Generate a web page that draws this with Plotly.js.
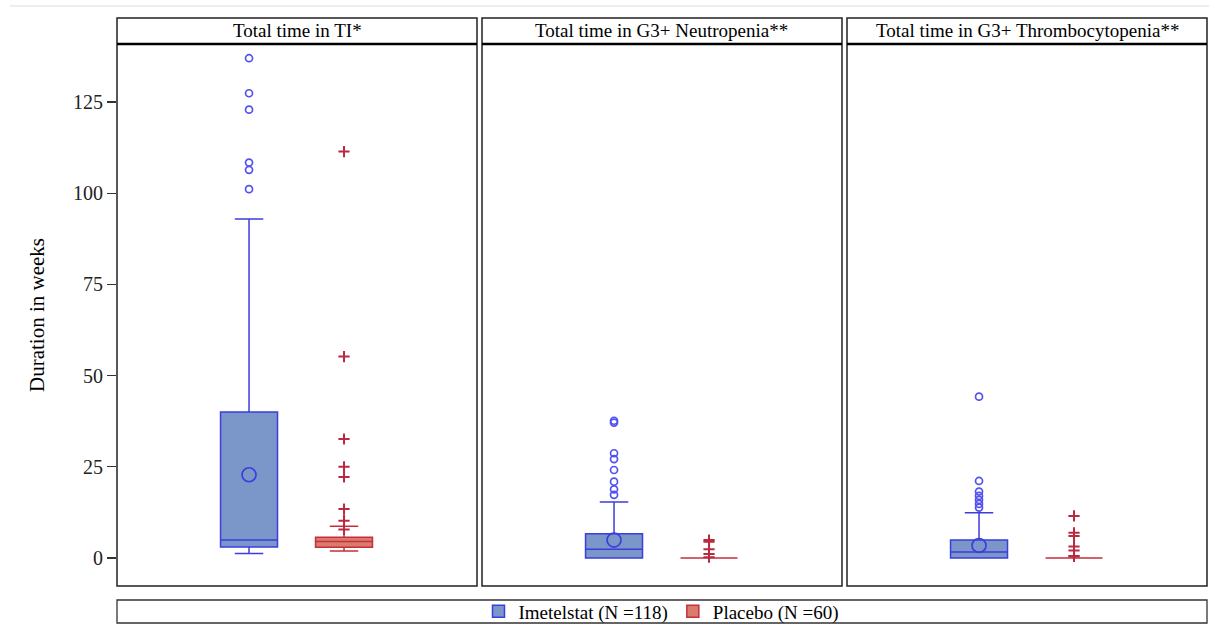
<!DOCTYPE html>
<html><head><meta charset="utf-8">
<script src="https://cdn.plot.ly/plotly-3.0.1.min.js"></script>
<style>html,body{margin:0;padding:0;background:#fff;overflow:hidden}#chart{width:1209px;height:625px}</style>
</head><body><div id="chart"></div>
<script>
// ---- data ----
const groups = ['Imetelstat (N =118)', 'Placebo (N =60)'];
const panels = ['Total time in TI*', 'Total time in G3+ Neutropenia**', 'Total time in G3+ Thrombocytopenia**'];
const yTicks = [0, 25, 50, 75, 100, 125];

const imeQ1 = [3.0, 0, 0];
const imeMedian = [4.9, 2.4, 1.6];
const imeQ3 = [40, 6.6, 4.9];
const imeLow = [1.2, 0, 0];
const imeUp = [92.9, 15.3, 12.4];
const imeMean = [22.8, 4.9, 3.4];
const imeOut1 = [137, 127.4, 122.9, 108.4, 106.4, 101.1];
const imeOut2 = [37.6, 37.1, 28.7, 27.1, 24.1, 20.9, 18.8, 17.3];
const imeOut3 = [44.2, 21.1, 18.2, 17.0, 15.9, 14.8, 13.8];

const plaQ1 = [2.9, 0, 0];
const plaMedian = [4.5, 0, 0];
const plaQ3 = [5.7, 0, 0];
const plaLow = [1.9, 0, 0];
const plaUp = [8.7, 0, 0];
const plaMean = [7.8, 0.2, 0.5];
const plaOut1 = [111.4, 55.2, 32.6, 25.0, 22.2, 13.4, 10.2];
const plaOut2 = [4.9, 4.4, 2.4, 1.1];
const plaOut3 = [11.5, 6.9, 6.0, 3.1, 2.0, 0.4];

// ---- styles ----
const W = 1209, H = 625;
const FONT = 'Liberation Serif, Times New Roman, serif';
const imeFill = '#7b96c8', imeLine = '#3d3ddd', imeMark = '#5252f0';
const plaFill = '#db7b6c', plaLine = '#c4303c', plaMark = '#b82a40';
const panelX = [[117, 477], [482, 842], [847, 1207]];
const plotTop = 44, plotBot = 586, stripTop = 18;
const px = v => v / W, py = v => (H - v) / H;

const imeOut = [imeOut1, imeOut2, imeOut3];
const plaOut = [plaOut1, plaOut2, plaOut3];

const traces = [];
panels.forEach((p, i) => {
  const xa = i === 0 ? 'x' : 'x' + (i + 1);
  const ya = 'y';
  traces.push({
    type: 'box', name: groups[0], legendgroup: 'g0', showlegend: i === 0,
    x: [groups[0]], q1: [imeQ1[i]], median: [imeMedian[i]], q3: [imeQ3[i]],
    lowerfence: [imeLow[i]], upperfence: [imeUp[i]], boxpoints: false,
    fillcolor: imeFill, line: {color: imeLine, width: 1.5}, width: 0.6, whiskerwidth: 0.5,
    xaxis: xa, yaxis: ya, hoverinfo: 'skip'
  });
  traces.push({
    type: 'box', name: groups[1], legendgroup: 'g1', showlegend: i === 0,
    x: [groups[1]], q1: [plaQ1[i]], median: [plaMedian[i]], q3: [plaQ3[i]],
    lowerfence: [plaLow[i]], upperfence: [plaUp[i]], boxpoints: false,
    fillcolor: plaFill, line: {color: plaLine, width: 1.5}, width: 0.6, whiskerwidth: 0.5,
    xaxis: xa, yaxis: ya, hoverinfo: 'skip'
  });
  traces.push({
    type: 'scatter', mode: 'markers', showlegend: false, xaxis: xa, yaxis: ya,
    x: imeOut[i].map(() => groups[0]), y: imeOut[i],
    marker: {symbol: 'circle-open', size: 7, color: imeMark, line: {width: 1.7, color: imeMark}}
  });
  traces.push({
    type: 'scatter', mode: 'markers', showlegend: false, xaxis: xa, yaxis: ya,
    x: [groups[0]], y: [imeMean[i]],
    marker: {symbol: 'circle-open', size: 14, color: imeLine, line: {width: 1.7, color: imeLine}}
  });
  traces.push({
    type: 'scatter', mode: 'markers', showlegend: false, xaxis: xa, yaxis: ya,
    x: plaOut[i].map(() => groups[1]), y: plaOut[i],
    marker: {symbol: 'cross-thin-open', size: 8, color: plaMark, line: {width: 2, color: plaMark}}
  });
  traces.push({
    type: 'scatter', mode: 'markers', showlegend: false, xaxis: xa, yaxis: ya,
    x: [groups[1]], y: [plaMean[i]],
    marker: {symbol: 'cross-thin-open', size: 8, color: plaMark, line: {width: 2, color: plaMark}}
  });
});

const layout = {
  width: W, height: H, margin: {l: 0, r: 0, t: 0, b: 0, autoexpand: false},
  paper_bgcolor: '#fff', plot_bgcolor: '#fff',
  font: {family: FONT, color: '#000', size: 19},
  showlegend: true,
  legend: {orientation: 'h', x: 0.5 + 57 / W, xanchor: 'center', y: py(611.5), yanchor: 'middle',
    font: {family: FONT, size: 19, color: '#000'}, itemwidth: 30, bgcolor: 'rgba(0,0,0,0)',
    tracegroupgap: 0},
  yaxis: {
    domain: [py(plotBot), py(plotTop)], range: [-7.7, 140.9], anchor: 'x',
    tickvals: yTicks, ticks: 'outside', ticklen: 9, tickwidth: 1.2, tickcolor: '#333',
    showgrid: false, zeroline: false, showline: false,
    tickfont: {family: FONT, size: 20, color: '#222'},
    title: {text: 'Duration in weeks', font: {family: FONT, size: 21, color: '#000'}, standoff: 22},
    automargin: false
  },
  shapes: [], annotations: []
};
panels.forEach((p, i) => {
  const key = i === 0 ? 'xaxis' : 'xaxis' + (i + 1);
  layout[key] = {
    domain: [px(panelX[i][0]), px(panelX[i][1])], range: [-1.39, 2.40],
    type: 'category', categoryarray: groups, categoryorder: 'array',
    showticklabels: false, ticks: '', showgrid: false, zeroline: false, showline: false,
    anchor: 'y', automargin: false
  };
  layout.shapes.push({type: 'rect', xref: 'paper', yref: 'paper',
    x0: px(panelX[i][0]), x1: px(panelX[i][1]), y0: py(plotBot), y1: py(stripTop),
    line: {color: '#222', width: 1.5}, fillcolor: 'rgba(0,0,0,0)'});
  layout.shapes.push({type: 'line', xref: 'paper', yref: 'paper',
    x0: px(panelX[i][0]), x1: px(panelX[i][1]), y0: py(plotTop), y1: py(plotTop),
    line: {color: '#000', width: 2.4}});
  layout.annotations.push({xref: 'paper', yref: 'paper', x: px((panelX[i][0] + panelX[i][1]) / 2),
    y: py(31), text: p, showarrow: false, xanchor: 'center', yanchor: 'middle',
    font: {family: FONT, size: 19, color: '#000'}});
});
// legend frame and top rule
layout.shapes.push({type: 'rect', xref: 'paper', yref: 'paper', x0: px(117), x1: px(1207),
  y0: py(623), y1: py(600), line: {color: '#333', width: 1.3}, fillcolor: 'rgba(0,0,0,0)'});
layout.shapes.push({type: 'line', xref: 'paper', yref: 'paper', x0: px(10), x1: 1, y0: py(6), y1: py(6),
  line: {color: '#dddddd', width: 1}});

Plotly.newPlot('chart', traces, layout, {staticPlot: true, displayModeBar: false});
</script></body></html>
